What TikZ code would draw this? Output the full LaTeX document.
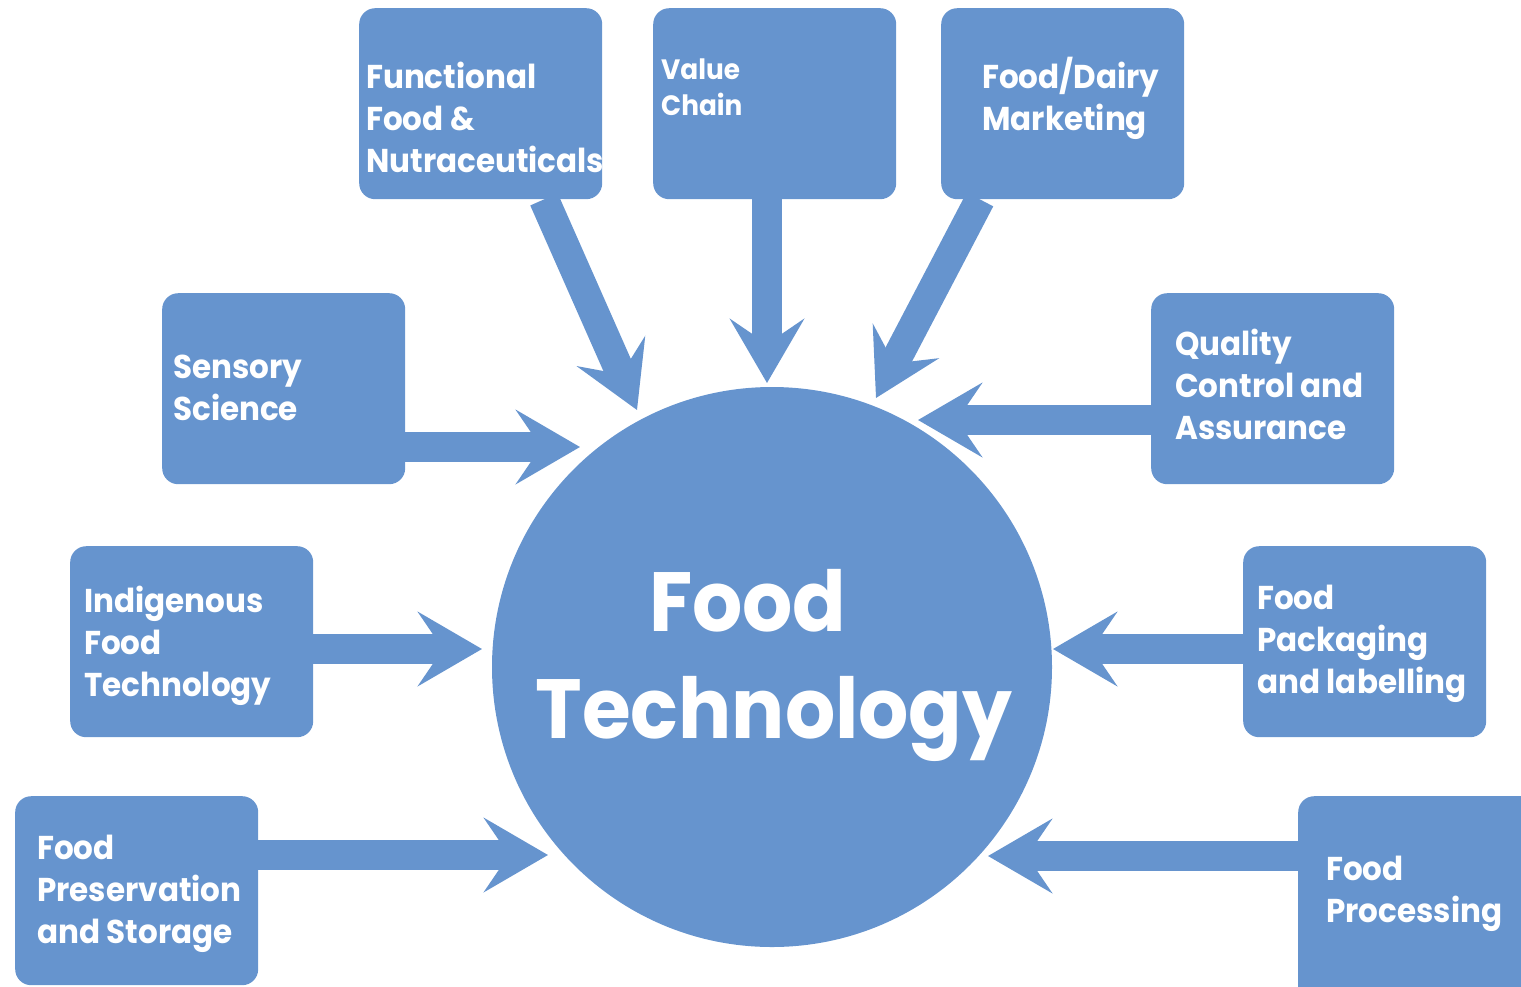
\documentclass[tikz,border=0pt]{standalone}
\usepackage{fontspec}
\setmainfont{Poppins}[FakeStretch=0.94]
\usetikzlibrary{arrows.meta,calc}
\definecolor{fc}{RGB}{102,148,206}
\tikzset{
  box/.style={fill=fc, rounded corners=16pt, minimum width=243pt, minimum height=191pt, inner sep=0pt, anchor=north west},
  txt/.style={text=white, font=\bfseries\fontsize{33}{42}\selectfont, anchor=base west, inner sep=0pt},
  arr/.style={draw=fc, line width=30pt, -{Stealth[length=64pt,width=74pt,inset=25pt]}}
}
\newcommand{\boxtext}[1]{\parbox[t]{320pt}{\raggedright #1}}
\begin{document}
\begin{tikzpicture}[x=1pt,y=-1pt]
\useasboundingbox (0,0) rectangle (1521,986);
% central circle
\node[circle, fill=fc, minimum size=560pt, inner sep=0pt] (ft) at (772,667) {};
\node[text=white, align=center, inner sep=0pt, font=\bfseries\fontsize{84}{107}\selectfont]
  (ftl) at ($(ft.center)+(2,-2)$) {\makebox[250pt][l]{Food}\\Technology};
% boxes
\node[box] (fn) at (359,8) {};
\node[box] (vc) at (653,8) {};
\node[box] (fd) at (941,8) {};
\node[box] (ss) at (162,293) {};
\node[box] (qc) at (1151,293) {};
\node[box] (ift) at (70,546) {};
\node[box] (fp) at (1243,546) {};
\node[box, minimum height=189pt] (ps) at (15,796) {};
\node[box, minimum width=260pt, minimum height=220pt] (pr) at (1298,796) {};
% texts
\node[txt] (tfn) at (366,88) {\boxtext{Functional\\Food \&\\Nutraceuticals}};
\node[txt, font=\bfseries\fontsize{28}{36}\selectfont] (tvc) at (661,79) {\boxtext{Value\\Chain}};
\node[txt] (tfd) at (982,88) {\boxtext{Food/Dairy\\Marketing}};
\node[txt] (tss) at (173,378) {\boxtext{Sensory\\Science}};
\node[txt] (tqc) at (1175,355) {\boxtext{Quality\\Control and\\Assurance}};
\node[txt] (tift) at (84,612) {\boxtext{Indigenous\\Food\\Technology}};
\node[txt] (tfp) at (1257,609) {\boxtext{Food\\Packaging\\and labelling}};
\node[txt] (tps) at (37,859) {\boxtext{Food\\Preservation\\and Storage}};
\node[txt] (tpr) at (1326,880) {\boxtext{Food\\Processing}};
% arrow tips
\coordinate (aFn) at (637,410);
\coordinate (aVc) at (767,383);
\coordinate (aFd) at (876,398);
\coordinate (aSs) at (580,447);
\coordinate (aQc) at (918,420);
\coordinate (aIf) at (482,649);
\coordinate (aFp) at (1053,649);
\coordinate (aPs) at (548,855);
\coordinate (aPr) at (988,856);
% arrows
\draw[arr] ($(fn.south west)!0.76!(fn.south east)$) -- (aFn);
\draw[arr] (aVc |- vc.south) -- (aVc);
\draw[arr] ($(fd.south west)!0.16!(fd.south east)$) -- (aFd);
\draw[arr] (ss.east |- aSs) -- (aSs);
\draw[arr] (qc.west |- aQc) -- (aQc);
\draw[arr] (ift.east |- aIf) -- (aIf);
\draw[arr] (fp.west |- aFp) -- (aFp);
\draw[arr] (ps.east |- aPs) -- (aPs);
\draw[arr] (pr.west |- aPr) -- (aPr);
\end{tikzpicture}
\end{document}
